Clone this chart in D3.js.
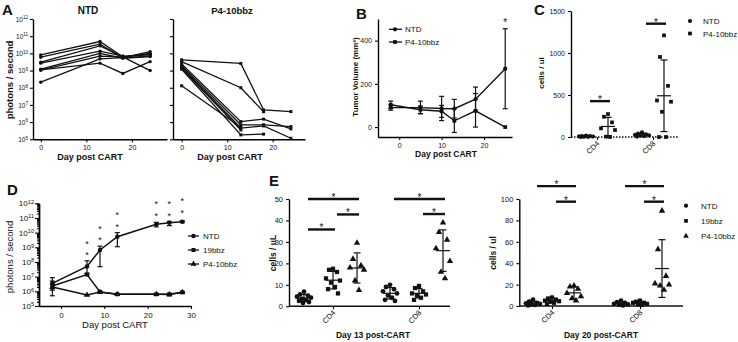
<!DOCTYPE html>
<html lang="en">
<head>
<meta charset="UTF-8">
<title>CART figure</title>
<script src="https://d3js.org/d3.v7.min.js"></script>
<style>
  body { margin: 0; background: #fff; }
  svg { font-family: "Liberation Sans", Arial, sans-serif; }
</style>
</head>
<body>
<script>
// ---------- data ----------
// A: bioluminescence per mouse (days 0, 13, 18, 24)
const aDays = [0, 13, 18, 24];
const aNTD = [
  [8.1e9, 4.9e10, 6.3e9, 1.0e9],
  [6.0e9, 3.4e10, 5.6e9, 1.26e10],
  [3.1e9, 2.75e10, 6.0e9, 1.0e10],
  [2.7e9, 1.35e10, 7.0e9, 8.1e9],
  [1.2e9, 1.0e10, 5.2e9, 6.5e9],
  [1.05e9, 7.0e9, 6.3e9, 9.0e9],
  [2.1e8, 4.8e9, 5.6e9, 7.0e9],
  [1.1e9, 2.7e9, 6.8e8, 3.3e9]
];
const aP4 = [
  [4.2e9, 2.6e9, 5.1e6, 4.1e6],
  [3.3e9, 1.0e8, 4.0e6, null],
  [2.4e9, 1.07e6, 1.5e6, 4.0e5],
  [1.9e9, 7.0e5, 7.0e5, 5.5e5],
  [1.55e9, 4.5e5, 6.0e5, 1.15e5],
  [1.35e9, 3.5e5, null, null],
  [1.2e9, 1.8e5, 2.0e5, null],
  [1.3e8, 5.0e5, null, null]
];

// B: tumor volume
const bDays = [-2, 5, 10, 13, 18, 25];
const bNTD = [90, 90, 86, 85, 129, 270];
const bNTDlo = [78, 62, 30, 42, 75, 85];
const bNTDhi = [102, 120, 142, 128, 185, 455];
const bP4 = [103, 80, 73, 29, 75, 0];
const bP4lo = [86, 62, 45, -25, 0, 0];
const bP4hi = [120, 98, 100, 85, 155, 0];
const bStars = [[25, 490]];

// C: blood counts
const cCats = ["CD4", "CD8"];
const cGroups = ["NTD", "P4-10bbz"];
const cCD4 = [[18, 12, 10, 8, 5, 3, 2, 0], [273, 241, 174, 103, 83, 4, 0]];
const cCD8 = [[55, 40, 30, 25, 20, 15, 10, 5], [1210, 953, 609, 435, 420, 300, 0, 0]];
const cSig = [[0, 0, 1, 427], [1, 0, 1, 1349]];

// D: bioluminescence means
const dDays = [-2, 6, 9, 13, 22, 25, 28];
const dGroups = ["NTD", "19bbz", "P4-10bbz"];
const dNTD = [3.5e6, 5e7, 6.6e8, 5.3e9, 3.7e10, 4.8e10, 5.6e10];
const dNTDlo = [1.5e6, 1.7e7, 4.8e7, 1.1e9, 2.5e10, 3.0e10, 4.8e10];
const dNTDhi = [8.5e6, 1.2e8, 1.2e9, 1.0e10, 5.0e10, 5.9e10, 6.5e10];
const d19 = [2.3e6, 1.4e7, 8.9e5, 6.3e5, 6.3e5, 6.3e5, 8.5e5];
const d19lo = [5.0e5, 1.2e7, 8.0e5, 5.8e5, 5.8e5, 5.0e5, 8.0e5];
const d19hi = [5.0e6, 1.6e7, 1.0e6, 6.8e5, 6.8e5, 7.2e5, 9.0e5];
const dP4 = [2.0e6, 5.6e5, 8.9e5, 6.3e5, 6.3e5, 6.0e5, 8.5e5];
const dP4lo = [1.2e6, 5.2e5, 7.5e5, 5.8e5, 5.8e5, 5.5e5, 8.0e5];
const dP4hi = [3.0e6, 6.0e5, 1.0e6, 6.8e5, 6.8e5, 6.5e5, 9.0e5];
const dStars = [[6, 2.45e9], [6, 3.9e8], [9, 2.5e10], [9, 4.1e9], [13, 2.2e11], [13, 3.3e10],
  [22, 1.23e12], [22, 1.86e11], [25, 1.23e12], [25, 1.86e11], [28, 1.86e12], [28, 3.2e11]];

// E: blood counts day 13 and day 20
const eCats = ["CD4", "CD8"];
const eGroups = ["NTD", "19bbz", "P4-10bbz"];
const e13CD4 = [[6.8, 5.5, 5, 4.5, 4, 3.5, 3, 2.5, 2, 1.5], [17.5, 17, 16, 13, 12, 11, 9, 8, 6], [29.5, 22, 19, 18, 17, 12, 7.5]];
const e13CD8 = [[10, 9, 8, 7, 6, 5, 4, 3, 2.5], [9.5, 8.5, 7, 6, 5.5, 5, 4, 3], [39, 34.5, 31, 27, 21, 16, 13]];
const e13Sig = [[0, 0, 2, 50], [0, 1, 2, 42.8], [0, 0, 1, 35.8], [1, 0, 2, 50], [1, 1, 2, 43]];
const e20CD4 = [[6, 4, 3, 2.5, 2, 1.5, 1, 0.5], [8, 7, 6, 5, 4.5, 4, 3, 2], [19, 18, 16, 12, 9, 7, 5]];
const e20CD8 = [[5, 3.5, 3, 2, 1.5, 1, 0.5], [5, 4, 3, 3, 2, 1.5, 1], [89, 53, 28, 21, 20, 19, 15]];
const e20Sig = [[0, 0, 2, 112], [0, 1, 2, 97.5], [1, 0, 2, 112], [1, 1, 2, 97.5]];

// ---------- helpers ----------
const svg = d3.select("body").append("svg").attr("width", 738).attr("height", 342);

function text(x, y, s, fs, opt = {}) {
  const t = svg.append("text").attr("x", x).attr("y", y).attr("font-size", fs).attr("fill", "#111")
    .attr("text-anchor", opt.anchor || "middle").text(s);
  if (opt.bold !== false) t.attr("font-weight", "bold");
  if (opt.rot) t.attr("transform", `rotate(${opt.rot},${x},${y})`);
  return t;
}
function axis(gen, tx, ty, fs) {
  const a = svg.append("g").attr("transform", `translate(${tx},${ty})`).call(gen);
  a.attr("font-size", fs).attr("font-family", null);
  a.select(".domain").attr("stroke-width", 1.4);
  a.selectAll(".tick line").attr("stroke-width", 1.1);
  a.selectAll(".tick text").attr("fill", "#111");
  return a;
}
function powLabels(a) {
  a.selectAll(".tick text").remove();
  a.selectAll(".tick").append("text").attr("x", -5).attr("dy", "0.32em")
    .attr("text-anchor", "end").attr("fill", "#111")
    .each(function (d) {
      const t = d3.select(this);
      t.append("tspan").text("10");
      t.append("tspan").attr("dy", "-0.5em").attr("font-size", "0.7em").text(Math.round(Math.log10(d)));
    });
}
const symType = [d3.symbolCircle, d3.symbolSquare, d3.symbolTriangle];
function mark(g, type, size, x, y) {
  g.append("path").attr("d", d3.symbol().type(type).size(size)()).attr("fill", "#111")
    .attr("transform", `translate(${x},${y})`);
}
function errbar(g, x, y1, y2, w) {
  g.append("line").attr("x1", x).attr("x2", x).attr("y1", y1).attr("y2", y2);
  g.append("line").attr("x1", x - w).attr("x2", x + w).attr("y1", y1).attr("y2", y1);
  g.append("line").attr("x1", x - w).attr("x2", x + w).attr("y1", y2).attr("y2", y2);
}
const decades = d3.range(5, 13).map(e => Math.pow(10, e));
const plain = d3.format("d");

// ---------- A ----------
text(2, 15, "A", 15, { anchor: "start" });
const aY = d3.scaleLog().domain([1e5, 1e12]).range([139.3, 19]);
const aX1 = d3.scaleLinear().domain([-1.7, 27.7]).range([33, 167]);
const aX2 = d3.scaleLinear().domain([-1.9, 27.1]).range([173, 305]);
powLabels(axis(d3.axisLeft(aY).tickValues(decades).tickSize(3).tickSizeOuter(0), 33, 0, 6.5));
axis(d3.axisLeft(aY).tickValues(decades).tickSize(3).tickSizeOuter(0).tickFormat(""), 173, 0, 6.5);
axis(d3.axisBottom(aX1).tickValues([0, 10, 20]).tickSize(3).tickSizeOuter(0), 0, 139.3, 7);
axis(d3.axisBottom(aX2).tickValues([0, 10, 20]).tickSize(3).tickSizeOuter(0), 0, 139.3, 7);
[[aNTD, aX1, 0], [aP4, aX2, 1]].forEach(([set, x, s]) => {
  const g = svg.append("g").attr("stroke", "#111").attr("stroke-width", 1.3).attr("fill", "none");
  const line = d3.line().defined(d => d != null).x((d, i) => x(aDays[i])).y(d => aY(d));
  set.forEach(m => {
    g.append("path").attr("d", line(m));
    m.forEach((v, i) => { if (v != null) mark(svg, symType[s], 9, x(aDays[i]), aY(v)); });
  });
});
text(88, 14, "NTD", 10);
text(232, 14, "P4-10bbz", 9.5);
text(90, 160, "Day post CART", 9);
text(230, 160, "Day post CART", 9);
text(13, 80, "photons / second", 9.5, { rot: -90 });

// ---------- B ----------
text(356, 19, "B", 15, { anchor: "start" });
const bX = d3.scaleLinear().domain([-5, 26.6]).range([378, 512]);
const bY = d3.scaleLinear().domain([-46, 500]).range([137, 19]);
axis(d3.axisLeft(bY).tickValues([0, 200, 400]).tickSize(3).tickSizeOuter(0), 378, 0, 7);
axis(d3.axisBottom(bX).tickValues([0, 10, 20]).tickSize(3).tickSizeOuter(0), 0, 137, 7);
[[bNTD, bNTDlo, bNTDhi, 0], [bP4, bP4lo, bP4hi, 1]].forEach(([v, lo, hi, s]) => {
  const g = svg.append("g").attr("stroke", "#111").attr("stroke-width", 1.2).attr("fill", "none");
  g.append("path").attr("stroke-width", 1.4)
    .attr("d", d3.line().x((d, i) => bX(bDays[i])).y(d => bY(d))(v));
  v.forEach((d, i) => {
    if (hi[i] !== lo[i]) errbar(g, bX(bDays[i]), bY(lo[i]), bY(hi[i]), 2.5);
    mark(svg, symType[s], 14, bX(bDays[i]), bY(d));
  });
});
bStars.forEach(([d, v]) => text(bX(d), bY(v) + 5, "*", 10, { bold: false }));
[["NTD", 0, 29.3], ["P4-10bbz", 1, 42]].forEach(([n, s, y]) => {
  svg.append("line").attr("x1", 389).attr("x2", 402).attr("y1", y).attr("y2", y).attr("stroke", "#111").attr("stroke-width", 1.3);
  mark(svg, symType[s], 14, 395, y);
  text(405, y + 3, n, 8, { anchor: "start", bold: false });
});
text(446, 157, "Day post CART", 8.5);
text(358, 77, "Tumor Volume (mm³)", 8, { rot: -90 });

// ---------- scatter panels ----------
const spread = [0, -4, 4, -7, 7, -2, 2, -5, 5, -1, 1];
function scatter(opt) {
  const { x, y, cats, data, offs, syms, size, sig, y0, x0, x1 } = opt;
  const g = svg.append("g").attr("stroke", "#111").attr("stroke-width", 1.2);
  cats.forEach((c, ci) => data[ci].forEach((vals, gi) => {
    const cx = x(c) + offs[gi];
    vals.slice().sort((a, b) => b - a).forEach((v, i) => mark(svg, syms[gi], size, cx + spread[i % spread.length], y(v)));
    const m = d3.mean(vals), sd = d3.deviation(vals);
    g.append("line").attr("x1", cx - 7).attr("x2", cx + 7).attr("y1", y(m)).attr("y2", y(m));
    errbar(g, cx, y(Math.max(m - sd, y.domain()[0])), y(m + sd), 3.5);
  }));
  sig.forEach(([ci, a, b, v]) => {
    const xa = x(cats[ci]) + offs[a] + 4, xb = x(cats[ci]) + offs[b] + 2;
    svg.append("line").attr("x1", xa).attr("x2", xb).attr("y1", y(v)).attr("y2", y(v))
      .attr("stroke", "#111").attr("stroke-width", 2.4);
    text((xa + xb) / 2, y(v) + 2, "*", 10, { bold: false });
  });
  const ax = axis(d3.axisBottom(x).tickSize(3).tickFormat(""), 0, y0, 7.5);
  ax.select(".domain").remove();
  const base = svg.append("line").attr("x1", x0).attr("x2", x1).attr("y1", y0).attr("y2", y0)
    .attr("stroke", "#111").attr("stroke-width", 1.4);
  cats.forEach(c => text(x(c) + 3, y0 + 7, c, 7.5, { anchor: "end", bold: false, rot: -45 }));
  return base;
}

// ---------- C ----------
text(534, 15, "C", 15, { anchor: "start" });
const cY = d3.scaleLinear().domain([0, 1500]).range([137, 11]);
const cX = d3.scalePoint().domain(cCats).range([597, 653]);
axis(d3.axisLeft(cY).tickValues([0, 500, 1000, 1500]).tickFormat(plain).tickSize(3).tickSizeOuter(0), 571, 0, 7);
scatter({ x: cX, y: cY, cats: cCats, data: [cCD4, cCD8], offs: [-11, 11], syms: [d3.symbolCircle, d3.symbolSquare],
  size: 14, sig: cSig, y0: 137, x0: 571, x1: 678 }).attr("stroke-dasharray", "1.5,1.5");
text(544, 73, "cells / ul", 8, { rot: -90 });
cGroups.forEach((n, i) => {
  mark(svg, symType[i], 14, 690, 21 + i * 12.5);
  text(703, 24 + i * 12.5, n, 8, { anchor: "start", bold: false });
});

// ---------- D ----------
text(7, 195, "D", 15, { anchor: "start" });
const dY = d3.scaleLog().domain([1e5, 1e12]).range([306, 203.3]);
const dX = d3.scaleLinear().domain([-5.08, 30]).range([39, 191]);
const minors = [];
d3.range(5, 12).forEach(e => d3.range(2, 10).forEach(k => minors.push(k * Math.pow(10, e))));
axis(d3.axisLeft(dY).tickValues(minors).tickSize(2).tickSizeOuter(0).tickFormat(""), 39, 0, 8);
powLabels(axis(d3.axisLeft(dY).tickValues(decades).tickSize(4).tickSizeOuter(0), 39, 0, 8));
axis(d3.axisBottom(dX).tickValues([0, 10, 20, 30]).tickSize(3).tickSizeOuter(0), 0, 306, 8);
[[dNTD, dNTDlo, dNTDhi], [d19, d19lo, d19hi], [dP4, dP4lo, dP4hi]].forEach(([v, lo, hi], s) => {
  const g = svg.append("g").attr("stroke", "#111").attr("stroke-width", 1.2).attr("fill", "none");
  g.append("path").attr("stroke-width", 1.5)
    .attr("d", d3.line().x((d, i) => dX(dDays[i])).y(d => dY(d))(v));
  v.forEach((d, i) => {
    errbar(g, dX(dDays[i]), dY(lo[i]), dY(hi[i]), 2.5);
    mark(svg, symType[s], 16, dX(dDays[i]), dY(d));
  });
});
dStars.forEach(([d, v]) => text(dX(d), dY(v) + 5, "*", 9, { bold: false }));
dGroups.forEach((n, i) => {
  const y = [236, 250, 264][i];
  svg.append("line").attr("x1", 188).attr("x2", 199).attr("y1", y).attr("y2", y).attr("stroke", "#111").attr("stroke-width", 1.3);
  mark(svg, symType[i], 16, 193.5, y);
  text(203, y + 3, n, 8, { anchor: "start", bold: false });
});
text(115, 328, "Day post CART", 9.5, { bold: false });
text(13, 257, "photons / second", 9.5, { rot: -90, bold: false });

// ---------- E ----------
text(269, 186, "E", 15, { anchor: "start" });
const eY1 = d3.scaleLinear().domain([0, 50]).range([306.3, 199]);
const eX1 = d3.scalePoint().domain(eCats).range([333, 419]);
axis(d3.axisLeft(eY1).tickValues(d3.range(0, 51, 10)).tickSize(3).tickSizeOuter(0), 289, 0, 7.5);
scatter({ x: eX1, y: eY1, cats: eCats, data: [e13CD4, e13CD8], offs: [-29, 0, 24], syms: symType,
  size: 18, sig: e13Sig, y0: 306.3, x0: 289, x1: 450 });
text(276, 253, "cells / uL", 8.5, { rot: -90 });
text(373, 338, "Day 13 post-CART", 8.5);

const eY2 = d3.scaleLinear().domain([0, 100]).range([306, 199]);
const eX2 = d3.scalePoint().domain(eCats).range([552, 640]);
axis(d3.axisLeft(eY2).tickValues(d3.range(0, 101, 20)).tickSize(3).tickSizeOuter(0), 519.3, 0, 7.5);
scatter({ x: eX2, y: eY2, cats: eCats, data: [e20CD4, e20CD8], offs: [-19, 0, 22], syms: symType,
  size: 18, sig: e20Sig, y0: 306, x0: 519.3, x1: 683 });
text(496, 253, "cells / ul", 8.5, { rot: -90 });
text(601, 338, "Day 20 post-CART", 8.5);
eGroups.forEach((n, i) => {
  mark(svg, symType[i], 14, 686, 205.7 + i * 15.2);
  text(701, 208.7 + i * 15.2, n, 8, { anchor: "start", bold: false });
});
</script>
</body>
</html>
